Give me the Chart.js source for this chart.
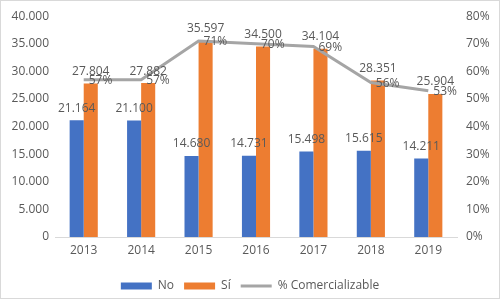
<!DOCTYPE html>
<html>
<head>
<meta charset="utf-8">
<script src="https://cdn.jsdelivr.net/npm/chart.js@4"></script>
<style>
  body { margin: 0; background: #fff; }
  canvas { display: block; }
</style>
</head>
<body>
<canvas id="c" width="500" height="299"></canvas>
<script>
const years = ['2013', '2014', '2015', '2016', '2017', '2018', '2019']
const noValues = [21164, 21100, 14680, 14731, 15498, 15615, 14211]
const siValues = [27804, 27882, 35597, 34500, 34104, 28351, 25904]
const pctValues = [57, 57, 71, 70, 69, 56, 53]

const FONT = '"Open Sans", sans-serif'
const GREY_TXT = '#595959'

const fmt = v => v.toString().replace(/\B(?=(\d{3})+(?!\d))/g, '.')

// white background + thin frame round the whole chart
const frame = {
  id: 'frame',
  beforeDraw(chart) {
    const ctx = chart.ctx
    ctx.save()
    ctx.fillStyle = '#fff'
    ctx.fillRect(0, 0, chart.width, chart.height)
    ctx.restore()
  },
  afterDraw(chart) {
    const ctx = chart.ctx
    ctx.save()
    ctx.strokeStyle = '#d9d9d9'
    ctx.lineWidth = 1
    ctx.strokeRect(0.5, 0.5, chart.width - 1, chart.height - 1)
    ctx.restore()
  }
}

// value labels like excel's data labels
const valueLabels = {
  id: 'valueLabels',
  afterDatasetsDraw(chart) {
    const ctx = chart.ctx
    ctx.save()
    ctx.font = '12px ' + FONT
    ctx.fillStyle = GREY_TXT
    ctx.textBaseline = 'middle'
    chart.data.datasets.forEach((ds, i) => {
      const meta = chart.getDatasetMeta(i)
      meta.data.forEach((el, j) => {
        if (ds.type === 'line') {
          ctx.textAlign = 'left'
          ctx.fillText(ds.data[j] + '%', el.x + 5, el.y + 1)
        } else {
          ctx.textAlign = 'center'
          ctx.fillText(fmt(ds.data[j]), el.x, el.y - 12)
        }
      })
    })
    ctx.restore()
  }
}

new Chart(document.getElementById('c'), {
  type: 'bar',
  data: {
    labels: years,
    datasets: [
      {
        label: 'No',
        data: noValues,
        backgroundColor: '#4472c4',
        yAxisID: 'y',
        order: 1,
        categoryPercentage: 0.49,
        barPercentage: 1,
      },
      {
        label: 'Sí',
        data: siValues,
        backgroundColor: '#ed7d31',
        yAxisID: 'y',
        order: 1,
        categoryPercentage: 0.49,
        barPercentage: 1,
      },
      {
        type: 'line',
        label: '% Comercializable',
        data: pctValues,
        borderColor: '#a5a5a5',
        backgroundColor: '#a5a5a5',
        borderWidth: 3,
        pointRadius: 0,
        tension: 0,
        yAxisID: 'y1',
        order: 0,
      }
    ]
  },
  options: {
    responsive: false,
    animation: false,
    layout: { padding: { top: 16, left: 0, right: 0, bottom: -3 } },
    plugins: {
      legend: {
        position: 'bottom',
        labels: {
          font: { family: FONT, size: 12 },
          color: GREY_TXT,
          usePointStyle: true,
          boxWidth: 31,
          boxHeight: 7,
          pointStyleWidth: 31,
          padding: 10,
          sort: (a, b) => a.datasetIndex - b.datasetIndex,
          generateLabels: chart => chart.data.datasets.map((ds, i) => ({
            text: ds.label,
            fillStyle: ds.backgroundColor,
            strokeStyle: ds.type === 'line' ? ds.borderColor : ds.backgroundColor,
            lineWidth: ds.type === 'line' ? 3 : 0,
            pointStyle: ds.type === 'line' ? 'line' : 'rect',
            fontColor: GREY_TXT,
            datasetIndex: i,
          }))
        }
      },
      tooltip: { enabled: false },
    },
    scales: {
      x: {
        grid: { display: false, drawTicks: false },
        border: { display: true, color: '#d9d9d9', width: 1 },
        ticks: { font: { family: FONT, size: 12 }, color: GREY_TXT, padding: 6 },
        afterFit: s => { s.height = 33 }
      },
      y: {
        position: 'left',
        min: 0,
        max: 40000,
        grid: { display: false, drawTicks: false },
        border: { display: false },
        ticks: {
          stepSize: 5000,
          font: { family: FONT, size: 12 },
          color: GREY_TXT,
          padding: 6,
          callback: v => fmt(v)
        },
        afterFit: s => { s.width = 55 }
      },
      y1: {
        position: 'right',
        min: 0,
        max: 80,
        grid: { display: false, drawTicks: false },
        border: { display: false },
        ticks: {
          stepSize: 10,
          font: { family: FONT, size: 12 },
          color: GREY_TXT,
          padding: 9,
          callback: v => v + '%'
        },
        afterFit: s => { s.width = 43 }
      }
    }
  },
  plugins: [frame, valueLabels]
})
</script>
</body>
</html>
